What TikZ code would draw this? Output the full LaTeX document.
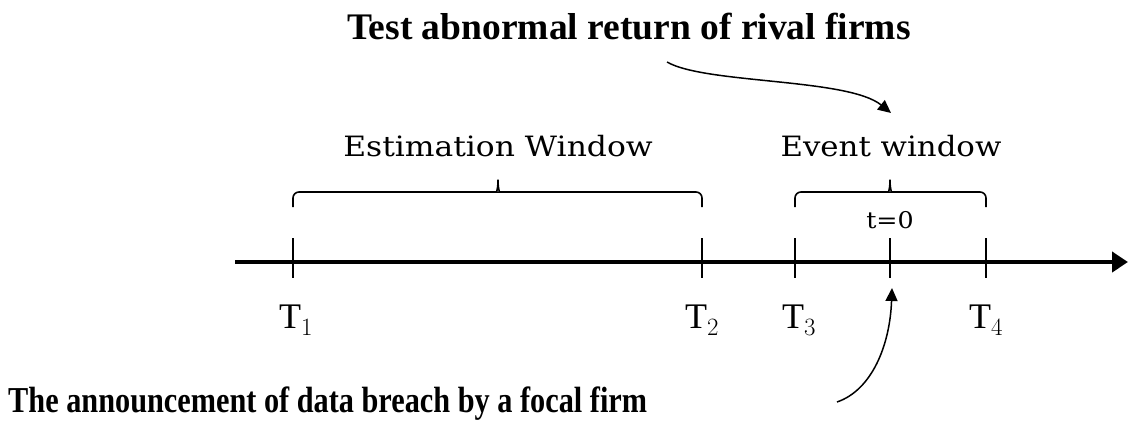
\documentclass[tikz,border=0pt]{standalone}
\usepackage{fontspec}
\usepackage{graphicx}
\setmainfont{Liberation Serif}
\newfontfamily\lblfont{DejaVu Serif}
\usetikzlibrary{arrows.meta}
\newcommand\flatbrace[4]{% left x, right x, mid x, name
  \draw[brc] (#1,-207) -- (#1,-192) -- (#3-7,-192)
     .. controls (#3-2,-192) and (#3,-189) .. (#3,-176)
     .. controls (#3,-189) and (#3+2,-192) .. (#3+7,-192) -- (#2,-192) -- (#2,-207);
  \coordinate (#4) at (#3,-176);
}
\begin{document}
\begin{tikzpicture}[x=1pt,y=1pt,
  bold/.style={font=\fontsize{37.5}{40}\selectfont\bfseries, inner sep=0pt},
  lbl/.style={font=\lblfont\fontsize{28}{32}\selectfont, inner sep=0pt},
  tlbl/.style={font=\fontsize{36}{40}\selectfont, inner sep=0pt, anchor=base west},
  tick/.style={line width=1.6pt},
  brc/.style={line width=1.6pt, rounded corners=6pt},
  curve/.style={line width=1.5pt, -{Triangle[length=13pt,width=12pt]}}]
\useasboundingbox (0,0) rectangle (1128,-421);
% axis
\coordinate (a0) at (235,-262);
\coordinate (a1) at (1128,-262);
\draw[line width=4.5pt, -{Triangle[length=16pt,width=20pt]}] (a0) -- (a1);
% ticks
\foreach \n/\x in {t1/293, t2/702, t3/795, t0/890, t4/986} {
  \coordinate (\n top) at (\x,-238);
  \coordinate (\n bot) at (\x,-278);
  \draw[tick] (\n top) -- (\n bot);
}
% braces
\flatbrace{293}{702}{498}{b1}
\flatbrace{795}{986}{890}{b2}
% labels
\node[lbl, anchor=base] (est) at (498,-156) {\scalebox{1.12}[1]{Estimation Window}};
\node[lbl, anchor=base] (evt) at (891,-156) {\scalebox{1.1}[1]{Event window}};
\node[lbl, anchor=base, font=\lblfont\fontsize{23}{26}\selectfont] (tz) at (890,-228) {\scalebox{1.1}[1]{t=0}};
\node[tlbl] (T1) at (279,-328) {$\mathrm{T}_1$};
\node[tlbl] (T2) at (685,-328) {$\mathrm{T}_2$};
\node[tlbl] (T3) at (782,-328) {$\mathrm{T}_3$};
\node[tlbl] (T4) at (969,-328) {$\mathrm{T}_4$};
% bold texts
\node[bold, anchor=base] (top) at (629,-39) {Test abnormal return of rival firms};
\node[bold, anchor=base west, font=\fontsize{36.5}{40}\selectfont\bfseries] (bottom) at (8,-412) {\scalebox{0.83}[1]{The announcement of data breach by a focal firm}};
% curved arrows
\coordinate (c1s) at (667,-62);
\coordinate (c1e) at (891,-113);
\draw[curve] (c1s) .. controls (705,-84) and (848,-78) .. (c1e);
\coordinate (c2s) at (837,-402);
\coordinate (c2e) at (892,-288);
\draw[curve] (c2s) .. controls (872,-390) and (890,-345) .. (c2e);
\end{tikzpicture}
\end{document}
